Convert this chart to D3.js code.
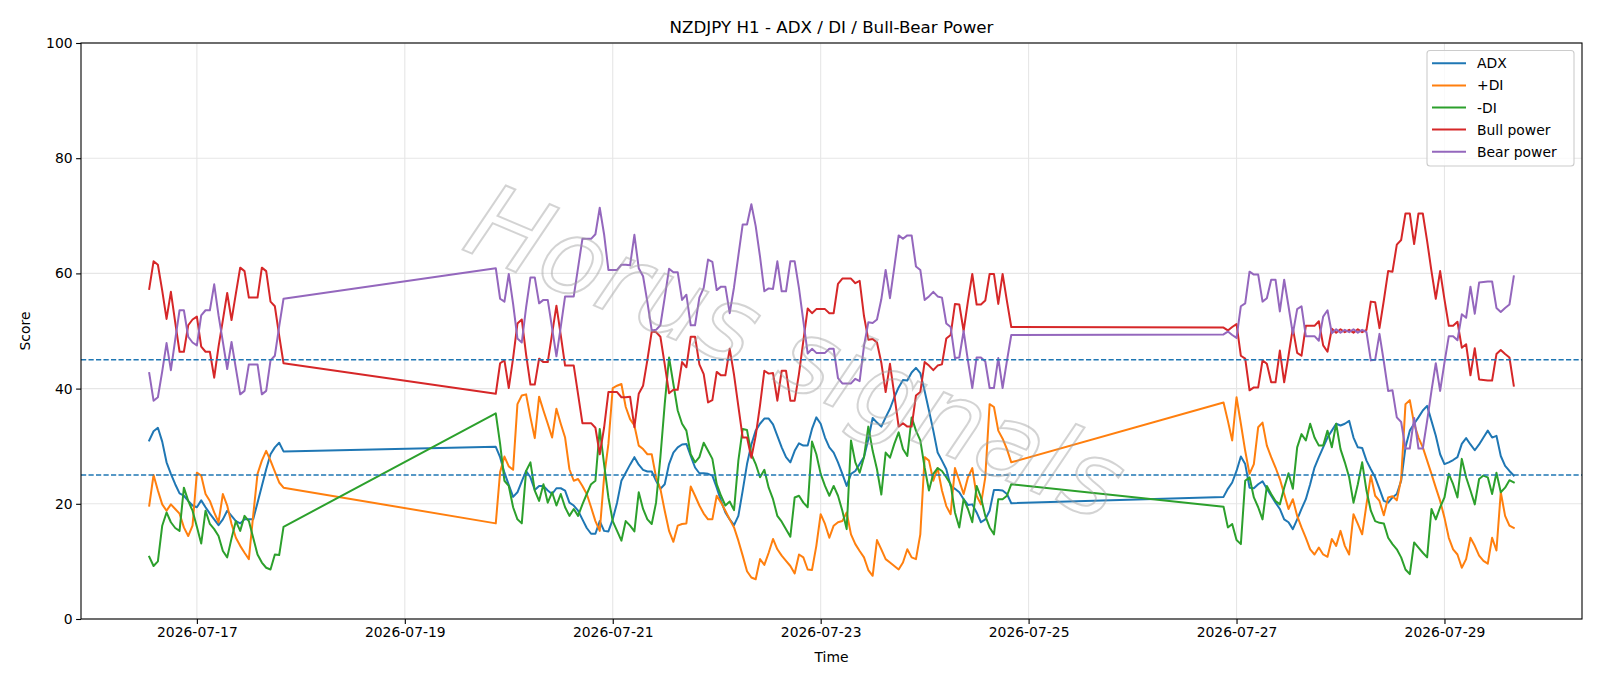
<!DOCTYPE html>
<html><head><meta charset="utf-8">
<script src="https://cdn.jsdelivr.net/npm/d3@7"></script>
<style>body{margin:0;background:#fff} svg text{font-family:"DejaVu Sans",sans-serif}</style>
</head><body>
<svg id="chart" width="1600" height="686"></svg>
<script>
// Hourly segments (UTC start, number of hourly bars)
const segmentStarts = ["2026-07-16T13:00:00Z", "2026-07-19T21:00:00Z", "2026-07-26T21:00:00Z"];
const segmentLengths = [32, 120, 68];

const adx = [
  31.0,32.6,33.2,30.8,27.2,25.2,23.4,21.8,21.4,20.5,19.7,19.4,20.6,19.4,18.3,17.3,16.3,17.3,18.8,17.9,17.0,16.6,17.3,17.3,17.3,20.2,23.1,26.0,28.6,29.8,30.6,29.1,
  29.9,28.1,25.4,23.3,21.2,22.0,23.9,25.7,24.6,22.4,23.1,23.1,22.3,21.7,22.7,22.7,22.3,20.2,19.7,18.8,17.3,15.8,14.8,14.8,17.0,15.3,15.2,17.3,20.2,24.0,25.4,26.8,28.1,26.8,
  25.9,25.6,25.6,24.0,22.6,23.4,26.9,28.9,29.8,30.3,30.4,28.3,26.3,25.3,25.3,25.2,24.9,22.8,20.5,18.5,17.3,16.3,17.9,22.3,26.9,30.3,32.7,33.9,34.8,34.8,
  33.8,31.8,29.8,28.1,27.2,29.2,30.5,30.1,30.1,33.0,35.0,33.9,31.5,29.8,28.9,27.2,25.2,23.1,25.2,25.7,26.9,28.1,31.2,34.9,34.1,33.4,35.0,36.5,38.5,40.2,41.5,41.4,
  42.8,43.6,42.7,39.6,36.2,32.7,28.9,27.5,26.0,23.1,22.6,22.0,20.8,19.8,19.9,18.5,16.8,17.3,18.8,22.4,22.4,22.3,21.7,20.1,
  21.2,22.6,23.7,25.7,28.2,26.9,22.8,22.7,23.4,23.9,22.6,21.4,20.2,19.1,17.3,16.8,15.6,17.3,19.1,20.8,23.4,26.3,28.1,29.8,31.5,32.7,33.9,33.6,33.9,34.4,31.5,29.8,29.7,27.5,26.0,24.6,
  22.6,20.5,20.2,21.1,21.7,24.0,29.8,32.7,33.9,35.0,36.2,37.0,34.4,31.8,28.6,26.9,27.2,27.6,28.1,30.4,31.4,30.3,29.3,30.3,31.5,32.7,31.5,31.8,28.3,26.6,25.7,24.9
];
const plusDI = [
  19.7,25.0,22.3,19.9,18.8,19.9,19.1,18.3,15.9,14.4,16.2,25.4,24.9,21.7,20.5,18.5,16.8,21.7,19.7,16.5,14.1,12.7,11.5,10.4,18.0,25.2,27.5,29.2,27.5,25.6,23.7,22.8,
  16.6,25.5,28.2,26.5,25.9,37.3,38.8,39.0,35.0,31.4,38.6,36.2,33.9,31.5,36.5,33.9,31.5,26.0,24.0,24.3,23.1,21.7,19.4,17.0,15.3,24.6,30.4,40.1,40.5,40.8,36.8,34.7,33.6,30.1,
  29.5,28.6,28.6,24.6,22.6,18.8,15.3,13.4,16.2,16.5,16.6,23.0,21.4,19.7,18.3,17.3,17.3,21.4,20.2,18.8,17.3,15.9,13.6,11.0,8.3,7.2,6.9,10.4,9.4,11.5,
  13.9,12.1,11.0,10.1,9.2,7.9,11.2,10.7,8.6,8.5,12.7,18.2,16.5,14.1,16.2,16.8,17.0,18.5,14.7,13.0,11.8,10.7,8.5,7.5,13.7,12.1,10.4,9.8,9.2,8.6,9.8,12.1,
  10.7,10.4,14.7,28.1,27.5,24.0,26.2,22.3,19.6,18.2,26.2,24.0,21.7,24.6,26.2,21.4,19.9,24.6,37.3,36.8,32.7,31.3,29.5,27.2,
  37.6,34.4,31.0,38.5,33.9,29.2,25.2,26.9,33.3,34.1,30.1,28.1,26.3,24.3,21.7,19.1,20.8,17.9,15.9,14.1,12.1,11.2,12.4,11.2,10.8,13.9,12.7,15.3,12.7,11.2,18.2,16.5,14.7,19.9,24.9,21.4,
  20.5,18.0,21.1,21.3,20.6,24.3,37.3,38.0,33.9,31.5,29.8,27.5,25.2,22.8,20.5,17.6,14.1,12.1,11.2,8.9,10.4,14.1,12.7,11.0,10.1,9.6,14.1,11.9,22.0,17.9,16.2,15.8
];
const minusDI = [
  10.8,9.2,10.0,16.2,18.5,16.8,15.8,15.3,22.8,20.5,18.8,16.0,13.1,18.8,16.5,15.6,14.4,11.8,10.7,14.0,17.0,15.3,17.9,17.0,14.1,11.2,9.8,8.9,8.6,11.2,11.1,16.0,
  35.7,30.4,24.0,23.1,19.4,17.3,16.6,25.7,27.2,22.3,20.5,23.4,20.2,22.0,19.7,21.7,19.4,17.9,19.1,17.9,19.9,21.7,23.4,24.0,33.0,26.9,21.1,17.0,15.3,13.6,17.0,16.2,15.2,22.0,
  19.1,17.3,16.5,20.2,28.1,37.3,45.4,40.8,36.2,33.9,32.7,28.6,27.2,28.1,30.6,29.2,27.8,23.4,21.4,19.7,20.4,18.9,27.5,33.0,32.8,28.6,26.9,24.6,25.9,22.8,
  20.8,17.9,16.9,15.6,14.3,21.1,21.4,20.2,19.4,30.8,28.6,25.2,23.1,21.4,23.1,21.4,18.8,15.6,31.0,27.2,25.4,28.1,33.4,29.2,26.0,21.6,28.9,28.0,30.4,32.4,29.5,28.3,
  35.0,32.7,31.0,26.3,22.3,25.2,26.2,25.7,24.6,23.4,18.5,15.9,20.8,19.1,16.8,23.1,21.1,17.9,15.9,14.7,20.8,20.8,21.4,23.4,
  19.5,15.9,16.5,13.7,13.0,24.0,24.6,21.1,19.4,17.3,23.1,21.7,20.5,19.9,22.8,25.3,22.6,29.8,32.1,31.0,33.9,31.5,30.1,30.1,32.7,29.8,33.9,29.5,27.2,24.6,20.2,23.4,27.2,22.3,18.8,17.0,
  16.7,16.6,14.1,13.0,12.1,10.7,8.6,7.8,13.3,12.4,11.5,10.7,19.1,17.3,19.4,21.1,25.2,23.4,21.1,27.8,24.6,22.3,19.9,24.3,24.9,24.6,21.7,25.4,22.0,22.8,24.1,23.7
];
const bullPower = [
  57.3,62.1,61.5,57.0,52.1,56.8,51.5,46.4,46.4,51.0,52.0,52.5,47.3,46.4,46.4,41.9,47.3,51.9,56.6,51.9,56.5,61.0,60.4,55.8,55.8,55.8,61.0,60.4,55.1,54.3,49.2,44.4,
  39.1,44.4,44.9,40.1,45.3,51.3,52.0,45.9,40.7,40.7,45.2,44.6,44.6,49.5,54.4,49.3,44.0,44.0,44.0,39.0,34.0,34.0,34.0,33.2,28.6,33.2,39.4,39.4,39.4,38.5,38.5,38.6,33.3,39.1,
  40.5,45.0,49.9,49.8,49.0,44.2,39.2,39.8,39.8,44.6,43.7,49.0,49.0,44.2,42.5,37.6,38.0,42.9,42.3,42.3,46.9,42.4,36.9,31.5,31.5,28.0,31.8,37.1,43.1,42.6,
  42.7,37.9,43.1,43.1,37.9,37.9,42.6,48.3,53.9,53.1,53.8,53.8,53.8,53.1,53.1,58.2,59.1,59.1,59.1,58.3,58.7,52.6,48.5,48.6,48.0,44.5,39.4,44.3,38.9,33.4,34.0,33.4,
  33.4,38.8,39.4,44.6,44.0,43.2,44.0,44.2,48.7,49.3,54.7,54.6,50.0,55.2,59.9,54.6,54.6,55.3,59.9,59.9,54.7,59.9,55.2,50.7,
  50.6,50.1,50.7,51.2,45.7,45.2,39.7,40.2,40.2,44.9,44.3,41.1,41.1,46.6,41.1,45.7,50.5,46.2,45.7,50.9,50.9,50.9,51.7,47.5,46.4,50.4,49.7,50.3,49.8,50.2,49.7,50.3,49.8,50.2,55.1,55.0,
  50.5,55.3,60.4,60.3,65.0,65.8,70.4,70.4,65.1,70.4,70.4,65.6,60.4,55.6,60.4,55.5,50.9,50.9,51.6,47.1,47.7,42.3,47.0,41.6,41.5,41.4,41.4,46.0,46.7,46.0,45.4,40.5
];
const bearPower = [
  42.7,37.9,38.5,43.0,47.9,43.2,48.5,53.6,53.6,49.0,48.0,47.5,52.7,53.6,53.6,58.1,52.7,48.1,43.4,48.1,43.5,39.0,39.6,44.2,44.2,44.2,39.0,39.6,44.9,45.7,50.8,55.6,
  60.9,55.6,55.1,59.9,54.7,48.7,48.0,54.1,59.3,59.3,54.8,55.4,55.4,50.5,45.6,50.7,56.0,56.0,56.0,61.0,66.0,66.0,66.0,66.8,71.4,66.8,60.6,60.6,60.6,61.5,61.5,61.4,66.7,60.9,
  59.5,55.0,50.1,50.2,51.0,55.8,60.8,60.2,60.2,55.4,56.3,51.0,51.0,55.8,57.5,62.4,62.0,57.1,57.7,57.7,53.1,57.6,63.1,68.5,68.5,72.0,68.2,62.9,56.9,57.4,
  57.3,62.1,56.9,56.9,62.1,62.1,57.4,51.7,46.1,46.9,46.2,46.2,46.2,46.9,46.9,41.8,40.9,40.9,40.9,41.7,41.3,47.4,51.5,51.4,52.0,55.5,60.6,55.7,61.1,66.6,66.0,66.6,
  66.6,61.2,60.6,55.4,56.0,56.8,56.0,55.8,51.3,50.7,45.3,45.4,50.0,44.8,40.1,45.4,45.4,44.7,40.1,40.1,45.3,40.1,44.8,49.3,
  49.4,49.9,49.3,48.8,54.3,54.8,60.3,59.8,59.8,55.1,55.7,58.9,58.9,53.4,58.9,54.3,49.5,53.8,54.3,49.1,49.1,49.1,48.3,52.5,53.6,49.6,50.3,49.7,50.2,49.8,50.3,49.7,50.2,49.8,44.9,45.0,
  49.5,44.7,39.6,39.7,35.0,34.2,29.6,29.6,34.9,29.6,29.6,34.4,39.6,44.4,39.6,44.5,49.1,49.1,48.4,52.9,52.3,57.7,53.0,58.4,58.5,58.6,58.6,54.0,53.3,54.0,54.6,59.5
];

const seriesNames = ["ADX", "+DI", "-DI", "Bull power", "Bear power"];
const seriesColors = ["#1f77b4", "#ff7f0e", "#2ca02c", "#d62728", "#9467bd"];
const seriesValues = [adx, plusDI, minusDI, bullPower, bearPower];
const yTicks = [0, 20, 40, 60, 80, 100];
const xTickLabels = ["2026-07-17", "2026-07-19", "2026-07-21", "2026-07-23", "2026-07-25", "2026-07-27", "2026-07-29"];
const thresholdLines = [45, 25];
const titleText = "NZDJPY H1 - ADX / DI / Bull-Bear Power";
const watermarkText = "Horus signals";

// build timestamps
const times = [];
segmentStarts.forEach((s, k) => {
  const start = new Date(s);
  for (let i = 0; i < segmentLengths[k]; i++) times.push(d3.utcHour.offset(start, i));
});

const svg = d3.select("#chart");
const m = {left: 81, right: 1582, top: 43, bottom: 619};

const t0 = times[0], t1 = times[times.length - 1];
const pad = (t1 - t0) * 0.05;
const x = d3.scaleUtc().domain([new Date(+t0 - pad), new Date(+t1 + pad)]).range([m.left, m.right]);
const y = d3.scaleLinear().domain([0, 100]).range([m.bottom, m.top]);

const parseDay = d3.utcParse("%Y-%m-%d");
const xTickDates = xTickLabels.map(parseDay);

// grid
const grid = svg.append("g");
grid.selectAll(".gx").data(xTickDates).join("line")
  .attr("x1", d => x(d)).attr("x2", d => x(d)).attr("y1", m.top).attr("y2", m.bottom)
  .attr("stroke", "#e6e6e6").attr("stroke-width", 1.1);
grid.selectAll(".gy").data(yTicks).join("line")
  .attr("x1", m.left).attr("x2", m.right).attr("y1", d => y(d)).attr("y2", d => y(d))
  .attr("stroke", "#e6e6e6").attr("stroke-width", 1.1);

// series
svg.append("clipPath").attr("id", "clip").append("rect")
  .attr("x", m.left).attr("y", m.top).attr("width", m.right - m.left).attr("height", m.bottom - m.top);
const plot = svg.append("g").attr("clip-path", "url(#clip)");
seriesValues.forEach((vals, k) => {
  const line = d3.line().x((d, i) => x(times[i])).y(d => y(d));
  plot.append("path").datum(vals).attr("d", line)
    .attr("fill", "none").attr("stroke", seriesColors[k]).attr("stroke-width", 2)
    .attr("stroke-linejoin", "round").attr("stroke-linecap", "square");
});

// threshold lines
plot.selectAll(".th").data(thresholdLines).join("line")
  .attr("x1", m.left).attr("x2", m.right).attr("y1", d => y(d)).attr("y2", d => y(d))
  .attr("stroke", "#1f77b4").attr("stroke-width", 1.4).attr("stroke-dasharray", "5.2,2.3");

// watermark
svg.append("text").text(watermarkText)
  .attr("transform", "translate(796,352) rotate(23)")
  .attr("text-anchor", "middle").attr("dominant-baseline", "central")
  .attr("font-size", 104).attr("font-style", "italic")
  .attr("fill", "none").attr("stroke", "#a0a0a0").attr("stroke-width", 2).attr("opacity", 0.45);

// axes
const fs = 13.9;
const xAxis = svg.append("g").attr("transform", `translate(0,${m.bottom})`)
  .call(d3.axisBottom(x).tickValues(xTickDates).tickFormat((d, i) => xTickLabels[i]).tickSize(4.9).tickPadding(3.5));
const yAxis = svg.append("g").attr("transform", `translate(${m.left},0)`)
  .call(d3.axisLeft(y).tickValues(yTicks).tickSize(4.9).tickPadding(3.5));
[xAxis, yAxis].forEach(a => {
  a.select(".domain").remove();
  a.selectAll("line").attr("stroke", "#000").attr("stroke-width", 1.1);
  a.selectAll("text").attr("font-size", fs).attr("fill", "#000").attr("font-family", "DejaVu Sans");
});

// frame
svg.append("rect").attr("x", m.left).attr("y", m.top).attr("width", m.right - m.left).attr("height", m.bottom - m.top)
  .attr("fill", "none").attr("stroke", "#000").attr("stroke-width", 1.1);

// labels
svg.append("text").text(titleText).attr("x", (m.left + m.right) / 2).attr("y", 33)
  .attr("text-anchor", "middle").attr("font-size", 16.7).attr("fill", "#000");
svg.append("text").text("Time").attr("x", (m.left + m.right) / 2).attr("y", 662)
  .attr("text-anchor", "middle").attr("font-size", fs).attr("fill", "#000");
svg.append("text").text("Score").attr("transform", `translate(30,${(m.top + m.bottom) / 2}) rotate(-90)`)
  .attr("text-anchor", "middle").attr("font-size", fs).attr("fill", "#000");

// legend
const lg = svg.append("g");
lg.append("rect").attr("x", 1427).attr("y", 50.5).attr("width", 147).attr("height", 115.5).attr("rx", 3)
  .attr("fill", "#fff").attr("fill-opacity", 0.8).attr("stroke", "#cccccc").attr("stroke-width", 1.1);
seriesNames.forEach((n, k) => {
  const yy = 63.3 + k * 22.1;
  lg.append("line").attr("x1", 1432).attr("x2", 1466).attr("y1", yy).attr("y2", yy)
    .attr("stroke", seriesColors[k]).attr("stroke-width", 2);
  lg.append("text").text(n).attr("x", 1477).attr("y", yy).attr("dominant-baseline", "central")
    .attr("font-size", fs).attr("fill", "#000");
});
</script>
</body></html>
